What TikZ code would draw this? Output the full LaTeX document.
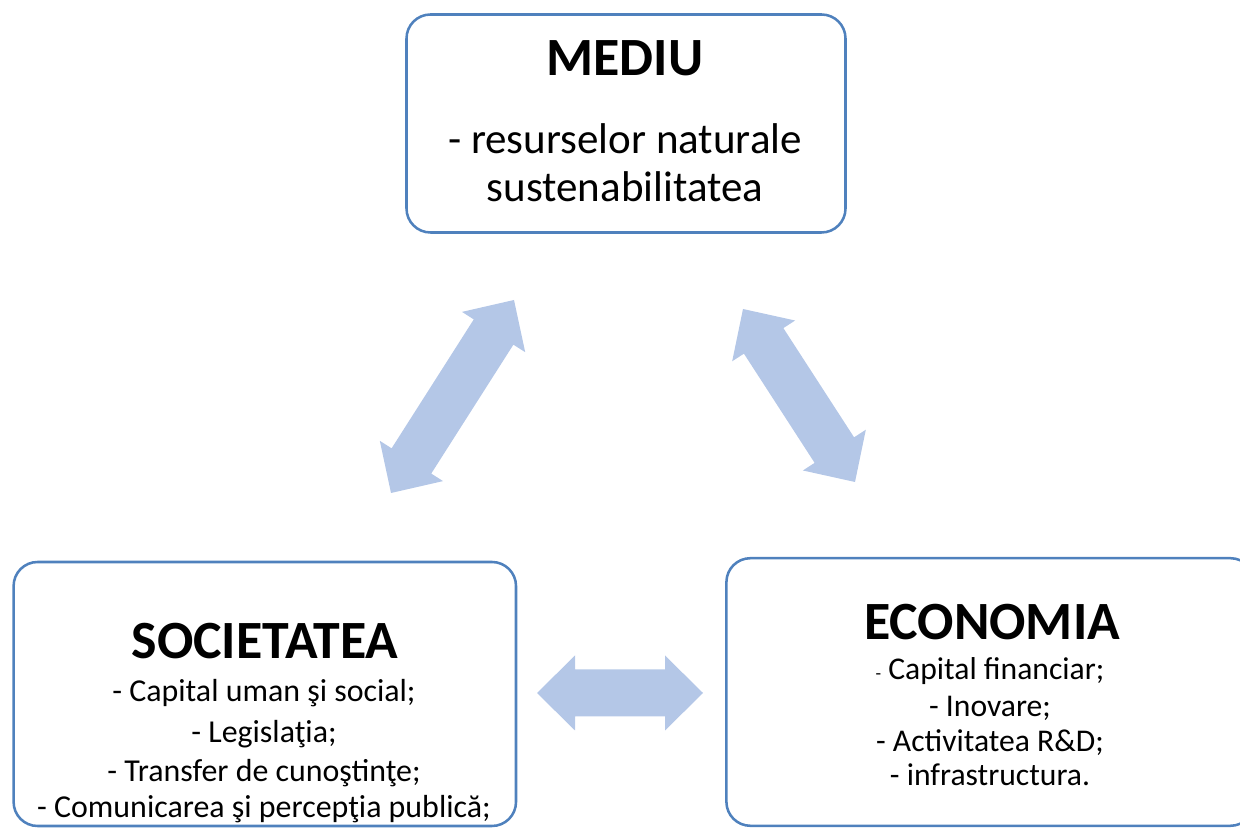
\documentclass[tikz,border=0pt]{standalone}
\usepackage{fontspec}
\setmainfont{Carlito}
\usetikzlibrary{calc}
\definecolor{boxline}{RGB}{79,129,189}
\definecolor{arrowfill}{RGB}{180,199,231}

\begin{document}
\begin{tikzpicture}[box/.style={draw = boxline, line width = 1.8pt, rounded corners = 0.6cm, inner sep = 0pt},
  title/.style={anchor = base, font = \fontsize{38.3}{46}\bfseries\selectfont},
  mtext/.style={anchor = base, font = \fontsize{30.6}{36}\selectfont},
  stext/.style={anchor = base, font = \fontsize{22.7}{28}\selectfont},
  etext/.style={anchor = base, font = \fontsize{22.5}{27}\selectfont}]
  \useasboundingbox (0,0) rectangle (31,20.7);
  % the three boxes
  \node (mediu) [box, minimum width = 10.975cm, minimum height = 5.45cm] at (15.65,17.6125) {};
  \node (soc) [box, minimum width = 12.56cm, minimum height = 6.6cm] at (6.62,3.35) {};
  \node (eco) [box, minimum width = 13.2cm, minimum height = 6.69cm] at (24.76,3.4) {};
  % texts
  \node (mt) [title] at (15.625,18.8) {MEDIU};
  \node (m1) [mtext] at (15.625,16.85) {- resurselor naturale};
  \node (m2) [mtext] at (15.625,15.65) {sustenabilitatea};
  \node (st) [title] at (6.625,4.225) {SOCIETATEA};
  \node (s1) [stext] at (6.6,3.15) {- Capital uman şi social;};
  \node (s2) [stext] at (6.6,2.125) {- Legislaţia;};
  \node (s3) [stext] at (6.6,1.15) {- Transfer de cunoştinţe;};
  \node (s4) [stext] at (6.6,0.25) {- Comunicarea şi percepţia publică;};
  \node (et) [title] at (24.8,4.7) {ECONOMIA};
  \node (e1) [etext] at (24.75,3.7) {{\fontsize{13}{15}\selectfont -} Capital financiar;};
  \node (e2) [etext] at (24.75,2.775) {- Inovare;};
  \node (e3) [etext] at (24.75,1.9) {- Activitatea R\&D;};
  \node (e4) [etext] at (24.75,1.05) {- infrastructura.};
  % arrow tips
  \coordinate (ms1) at (9.775,8.375);
  \coordinate (ms2) at (12.85,13.2);
  \coordinate (me1) at (18.575,12.975);
  \coordinate (me2) at (21.375,8.65);
  \coordinate (se1) at (13.425,3.375);
  \coordinate (se2) at (17.575,3.375);
  % double block arrows
  \foreach \a/\b in {ms1/ms2, me1/me2, se1/se2}
    \fill [arrowfill] (\a) -- ($(\a)!0.95cm!(\b)!0.9375cm!90:(\b)$)
      -- ($(\a)!0.95cm!(\b)!0.5875cm!90:(\b)$)
      -- ($(\b)!0.95cm!(\a)!0.5875cm!-90:(\a)$)
      -- ($(\b)!0.95cm!(\a)!0.9375cm!-90:(\a)$)
      -- (\b) -- ($(\b)!0.95cm!(\a)!0.9375cm!90:(\a)$)
      -- ($(\b)!0.95cm!(\a)!0.5875cm!90:(\a)$)
      -- ($(\a)!0.95cm!(\b)!0.5875cm!-90:(\b)$)
      -- ($(\a)!0.95cm!(\b)!0.9375cm!-90:(\b)$) -- cycle;
\end{tikzpicture}
\end{document}
